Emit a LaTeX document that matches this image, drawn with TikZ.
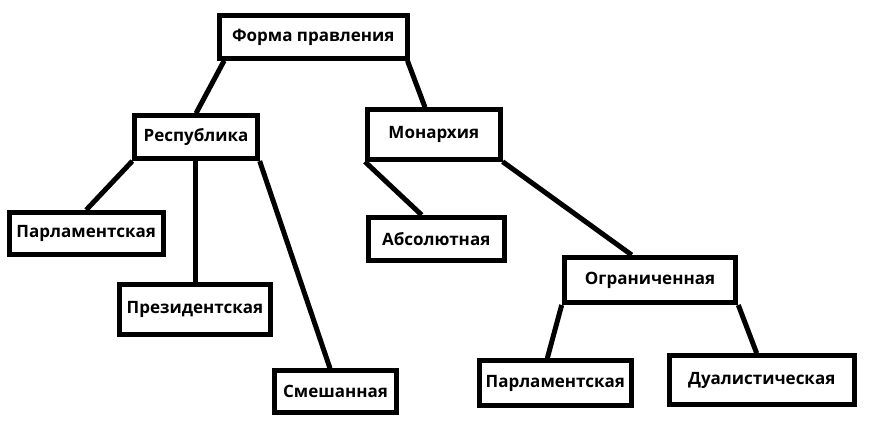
\documentclass[tikz,border=0pt]{standalone}
\usepackage{fontspec}
\setmainfont{Open Sans}
\begin{document}
\begin{tikzpicture}[x=1pt,y=-1pt,
  box/.style={draw=black,fill=white,line width=5pt,rectangle,inner sep=0pt,
    font=\fontsize{17}{19}\selectfont\bfseries},
  link/.style={line width=5pt,black}]
\useasboundingbox (0,0) rectangle (871,427);
\node[box,minimum width=188.3pt,minimum height=42.4pt] (forma) at (313.3,37) {Форма правления};
\node[box,minimum width=122.3pt,minimum height=42.7pt] (rep) at (196,137.2) {Республика};
\node[box,minimum width=132.7pt,minimum height=49.4pt] (mon) at (433.8,134.5) {Монархия};
\node[box,minimum width=154pt,minimum height=41.7pt] (parl1) at (86.2,233.3) {Парламентская};
\node[box,minimum width=150.4pt,minimum height=50pt] (prez) at (195,309.2) {Президентская};
\node[box,minimum width=122.6pt,minimum height=41.7pt] (smesh) at (335.5,391.7) {Смешанная};
\node[box,minimum width=136pt,minimum height=43.3pt] (abs) at (436.2,239.2) {Абсолютная};
\node[box,minimum width=171.6pt,minimum height=45pt] (ogr) at (650,280) {Ограниченная};
\node[box,minimum width=152.3pt,minimum height=45pt] (parl2) at (555.3,383.3) {Парламентская};
\node[box,minimum width=185pt,minimum height=48.4pt] (dual) at (761.7,380) {Дуалистическая};
\draw[link] ([xshift=7.5pt]forma.south west) -- (rep.north);
\draw[link] ([xshift=-2.5pt]forma.south east) -- ([xshift=-8.8pt]mon.north);
\draw[link] (rep.south west) -- (parl1.north);
\draw[link] ([xshift=-1pt]rep.south) -- (prez.north);
\draw[link] (rep.south east) -- ([xshift=-5.5pt]smesh.north);
\draw[link] (mon.south west) -- ([xshift=-14.5pt]abs.north);
\draw[link] (mon.south east) -- ([xshift=-18.3pt]ogr.north);
\draw[link] (ogr.south west) -- ([xshift=-8pt]parl2.north);
\draw[link] (ogr.south east) -- ([xshift=-5pt]dual.north);
\end{tikzpicture}
\end{document}
